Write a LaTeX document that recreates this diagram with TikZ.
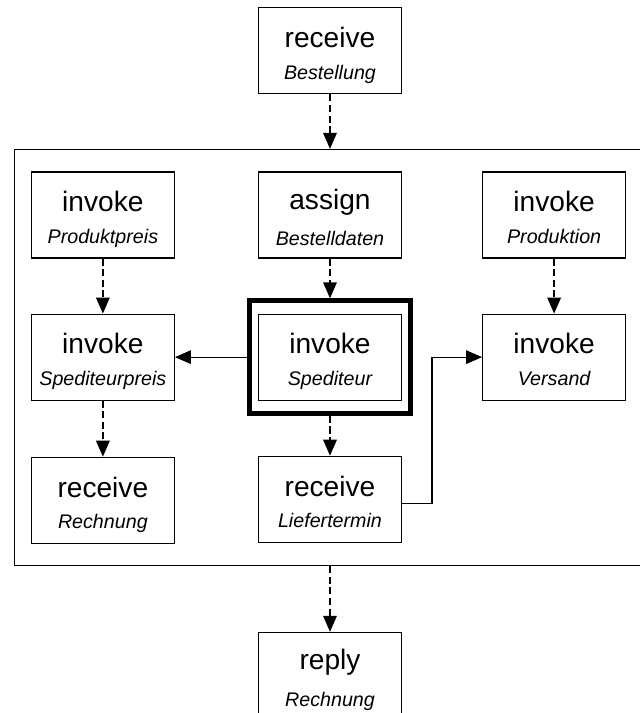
\documentclass[tikz,border=0pt]{standalone}
\usepackage{fontspec}
\setmainfont{Liberation Sans}
\usetikzlibrary{arrows.meta,positioning,fit}

\newcommand{\actlabel}[2]{{\fontsize{20}{22}\selectfont\rule{0pt}{22pt}#1}\\[10.5pt]{\fontsize{14}{16}\selectfont\itshape\rule[-4pt]{0pt}{4pt}#2}}

\begin{document}
\begin{tikzpicture}[
  activity/.style={
    draw,
    line width=0.8pt,
    minimum width=3.575cm,
    minimum height=2.15cm,
    inner sep=0pt,
    align=center
  },
  flow/.style={-{Triangle[length=4mm,width=3.4mm]},line width=1pt,dash pattern=on 5pt off 2.5pt},
  link/.style={-{Triangle[length=4mm,width=3.4mm]},line width=0.8pt}
]
  \useasboundingbox (-8.25,-12.45) rectangle (7.75,5.375);
  \clip (-8.25,-12.45) rectangle (7.75,5.375);

  \node[activity] (assign) at (0,0) {\actlabel{assign}{Bestelldaten}};
  \node[activity,above=1.925cm of assign] (bestellung) {\actlabel{receive}{Bestellung}};
  \node[activity,left=2.075cm of assign] (prodpreis) {\actlabel{invoke}{Produktpreis}};
  \node[activity,right=2cm of assign] (produktion) {\actlabel{invoke}{Produktion}};
  \node[activity,below=1.375cm of prodpreis] (spedpreis) {\actlabel{invoke}{Spediteurpreis}};
  \node[activity,below=1.375cm of assign] (spediteur) {\actlabel{invoke}{Spediteur}};
  \node[activity,below=1.375cm of produktion] (versand) {\actlabel{invoke}{Versand}};
  \node[activity,below=1.4cm of spedpreis] (rechnung) {\actlabel{receive}{Rechnung}};
  \node[activity,below=1.375cm of spediteur] (liefertermin) {\actlabel{receive}{Liefertermin}};
  \node[activity,below=2.225cm of liefertermin] (reply) {\actlabel{reply}{Rechnung}};

  % thick frame round the selected activity, and the flow scope
  \node[draw,line width=3.5pt,fit=(spediteur),inner xsep=0.22cm,inner ysep=0.32cm] (spedframe) {};
  \node[draw,line width=0.8pt,fit=(prodpreis)(produktion)(rechnung),inner xsep=0.4cm,inner ysep=0.55cm] (flowscope) {};

  \draw[flow] (bestellung) -- (bestellung |- flowscope.north);
  \draw[flow] (prodpreis) -- (spedpreis);
  \draw[flow] (assign) -- (spedframe);
  \draw[flow] (produktion) -- (versand);
  \draw[flow] (spedpreis) -- (rechnung);
  \draw[flow] (spedframe) -- (liefertermin);
  \draw[flow] (reply |- flowscope.south) -- (reply);
  \draw[link] (spedframe) -- (spedpreis);
  \draw[link] ([yshift=-0.1cm]liefertermin.east) -- ++(0.75cm,0) |- (versand.west);
\end{tikzpicture}
\end{document}
